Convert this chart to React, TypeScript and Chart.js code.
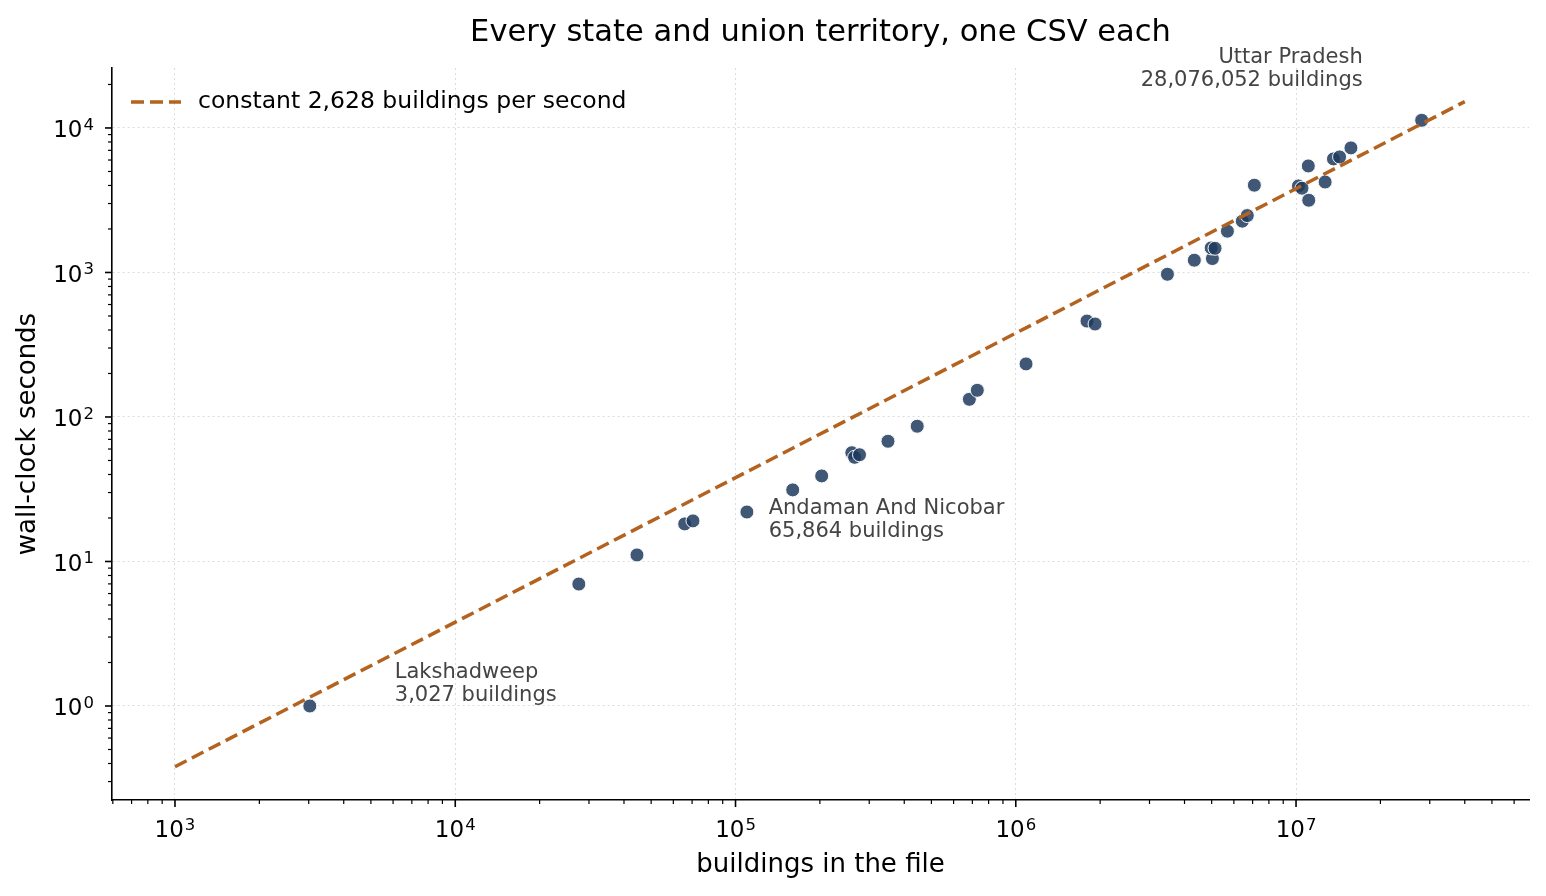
import { useEffect, useRef } from 'react';
import { Chart, registerables } from 'chart.js';
import type { Chart as ChartType, Plugin, Scale } from 'chart.js';

Chart.register(...registerables);

// buildings per state / UT file and wall-clock seconds to process it
const buildings = [
  3027, 27600, 44500, 65864, 70500, 109800, 160000, 203000, 260000, 266000,
  277000, 350000, 445000, 683000, 729000, 1088000, 1795000, 1918000, 3476000,
  4336000, 5030000, 4980000, 5140000, 5690000, 6430000, 6700000, 7100000,
  10200000, 10500000, 11100000, 11060000, 12700000, 13600000, 14300000,
  15700000, 28076052,
];
const seconds = [
  1.0, 6.98, 11.1, 18.2, 19.1, 22.0, 31.3, 39.1, 56.6, 52.6,
  54.8, 67.9, 86.3, 132.5, 153, 233, 461, 440, 972,
  1216, 1248, 1479, 1470, 1931, 2265, 2476, 4018,
  3972, 3830, 3162, 5460, 4227, 6108, 6305,
  7280, 11300,
];

// constant-rate reference line
const lineBuildings = [1000, 40000000];
const lineSeconds = [0.38, 15220];
const legendLabel = 'constant 2,628 buildings per second';

// called-out files
const calloutNames = ['Lakshadweep', 'Andaman And Nicobar', 'Uttar Pradesh'];
const calloutCounts = ['3,027 buildings', '65,864 buildings', '28,076,052 buildings'];
const calloutIndex = [0, 3, 35];

const FONT = "'DejaVu Sans', sans-serif";

const isDecade = (v: number) => {
  const l = Math.log10(v);
  return Math.abs(l - Math.round(l)) < 1e-9;
};

const logTicks = (scale: Scale) => {
  const ticks: { value: number; major: boolean }[] = [];
  const lo = Math.floor(Math.log10(scale.min));
  const hi = Math.ceil(Math.log10(scale.max));
  for (let e = lo; e <= hi; e++) {
    for (let m = 1; m <= 9; m++) {
      const v = m * Math.pow(10, e);
      if (v >= scale.min && v <= scale.max) ticks.push({ value: v, major: m === 1 });
    }
  }
  scale.ticks = ticks as any;
};

// "10" with a raised exponent, like matplotlib's log labels
const drawPow = (
  ctx: CanvasRenderingContext2D,
  exp: number,
  x: number,
  baseline: number,
  align: 'center' | 'right'
) => {
  const base = '10';
  const sup = String(exp);
  ctx.font = `23px ${FONT}`;
  const wb = ctx.measureText(base).width;
  ctx.font = `16.5px ${FONT}`;
  const ws = ctx.measureText(sup).width;
  const total = wb + ws + 1;
  const left = align === 'center' ? x - total / 2 : x - total;
  ctx.textAlign = 'left';
  ctx.textBaseline = 'alphabetic';
  ctx.font = `23px ${FONT}`;
  ctx.fillText(base, left, baseline);
  ctx.font = `16.5px ${FONT}`;
  ctx.fillText(sup, left + wb + 1, baseline - 7.5);
};

// offsets of callout text from its point, in px
const calloutStyle = [
  { dx: 85, dy: -33, align: 'left' as CanvasTextAlign },
  { dx: 84, dy: -15, align: 'left' as CanvasTextAlign },
  { dx: -59, dy: -63, align: 'right' as CanvasTextAlign },
];

const extras: Plugin = {
  id: 'extras',
  afterDraw(chart) {
    const { ctx } = chart;
    const xs = chart.scales.x;
    const ys = chart.scales.y;
    ctx.save();
    ctx.strokeStyle = '#000';
    ctx.fillStyle = '#000';
    // tick marks (major longer than minor) and decade labels
    for (const t of xs.ticks as any[]) {
      const px = xs.getPixelForValue(t.value);
      ctx.lineWidth = t.major ? 1.6 : 1.2;
      ctx.beginPath();
      ctx.moveTo(px, xs.top);
      ctx.lineTo(px, xs.top + (t.major ? 7 : 4));
      ctx.stroke();
      if (t.major && isDecade(t.value)) {
        drawPow(ctx, Math.round(Math.log10(t.value)), px, xs.top + 37, 'center');
      }
    }
    for (const t of ys.ticks as any[]) {
      const py = ys.getPixelForValue(t.value);
      ctx.lineWidth = t.major ? 1.6 : 1.2;
      ctx.beginPath();
      ctx.moveTo(ys.right, py);
      ctx.lineTo(ys.right - (t.major ? 7 : 4), py);
      ctx.stroke();
      if (t.major && isDecade(t.value)) {
        drawPow(ctx, Math.round(Math.log10(t.value)), ys.right - 18, py + 9.5, 'right');
      }
    }

    // legend in upper left
    const area = chart.chartArea;
    const ly = area.top + 34;
    ctx.strokeStyle = '#b3631f';
    ctx.lineWidth = 3.5;
    ctx.setLineDash([13, 6]);
    ctx.beginPath();
    ctx.moveTo(area.left + 19, ly);
    ctx.lineTo(area.left + 69, ly);
    ctx.stroke();
    ctx.setLineDash([]);
    ctx.fillStyle = '#000';
    ctx.font = `23.5px ${FONT}`;
    ctx.textBaseline = 'middle';
    ctx.textAlign = 'left';
    ctx.fillText(legendLabel, area.left + 86, ly);

    // callouts
    ctx.fillStyle = '#444444';
    ctx.font = `21px ${FONT}`;
    calloutIndex.forEach((idx, i) => {
      const s = calloutStyle[i];
      const px = xs.getPixelForValue(buildings[idx]) + s.dx;
      const py = ys.getPixelForValue(seconds[idx]) + s.dy;
      ctx.textAlign = s.align;
      ctx.fillText(calloutNames[i], px, py);
      ctx.fillText(calloutCounts[i], px, py + 23);
    });
    ctx.restore();
  },
};

const App = () => {
  const canvasRef = useRef<HTMLCanvasElement | null>(null);
  const chartRef = useRef<ChartType | null>(null);

  useEffect(() => {
    const canvas = canvasRef.current;
    if (!canvas) return;
    Chart.getChart(canvas)?.destroy();

    const gridColor = (c: any) =>
      c.tick && c.tick.major ? '#dcdcdc' : 'rgba(0,0,0,0)';

    chartRef.current = new Chart(canvas, {
      type: 'scatter',
      data: {
        datasets: [
          {
            label: legendLabel,
            data: lineBuildings.map((x, i) => ({ x, y: lineSeconds[i] })),
            showLine: true,
            pointRadius: 0,
            borderColor: '#b3631f',
            borderWidth: 3.5,
            borderDash: [13, 6],
          },
          {
            label: 'files',
            data: buildings.map((x, i) => ({ x, y: seconds[i] })),
            pointRadius: 7,
            pointBackgroundColor: 'rgba(31,59,94,0.85)',
            pointBorderColor: 'rgba(255,255,255,0.95)',
            pointBorderWidth: 1,
          },
        ],
      },
      options: {
        animation: false,
        responsive: true,
        maintainAspectRatio: false,
        layout: { padding: { top: 0, right: 17, bottom: 0, left: 0 } },
        plugins: {
          legend: { display: false },
          tooltip: { enabled: false },
          title: {
            display: true,
            text: 'Every state and union territory, one CSV each',
            color: '#000',
            fullSize: false,
            font: { family: FONT, size: 30.5, weight: 'normal', lineHeight: 1.2 },
            padding: { top: 15, bottom: 16.4 },
          },
        },
        scales: {
          x: {
            type: 'logarithmic',
            min: 596,
            max: 67800000,
            bounds: 'data',
            afterBuildTicks: logTicks,
            afterFit: (s: any) => {
              s.height = 96;
              s.paddingLeft = 0;
              s.paddingRight = 0;
            },
            ticks: { display: false, autoSkip: false },
            grid: { drawTicks: false, lineWidth: 1, color: gridColor },
            border: { display: true, color: '#000', width: 1.6, dash: [2, 3] },
            title: {
              display: true,
              text: 'buildings in the file',
              color: '#000',
              font: { family: FONT, size: 26 },
              padding: { top: 0, bottom: 15.5 },
            },
          },
          y: {
            type: 'logarithmic',
            min: 0.2236,
            max: 26000,
            bounds: 'data',
            afterBuildTicks: logTicks,
            afterFit: (s: any) => {
              s.width = 112;
              s.paddingTop = 0;
              s.paddingBottom = 0;
            },
            ticks: { display: false, autoSkip: false },
            grid: { drawTicks: false, lineWidth: 1, color: gridColor },
            border: { display: true, color: '#000', width: 1.6, dash: [2, 3] },
            title: {
              display: true,
              text: 'wall-clock seconds',
              color: '#000',
              font: { family: FONT, size: 26 },
              padding: { top: 12.5, bottom: 0 },
            },
          },
        },
      },
      plugins: [extras],
    });

    return () => {
      chartRef.current?.destroy();
      chartRef.current = null;
    };
  }, []);

  return (
    <div
      style={{
        position: 'fixed',
        left: 0,
        top: 0,
        width: 1546,
        height: 896,
        background: '#fff',
      }}
    >
      <canvas ref={canvasRef} />
    </div>
  );
};

export default App;
